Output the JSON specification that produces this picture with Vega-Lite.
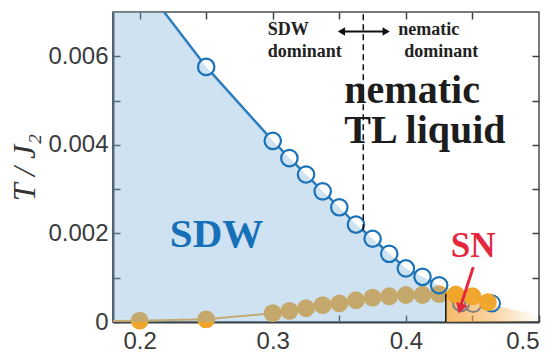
{
  "$schema": "https://vega.github.io/schema/vega-lite/v6.json",
  "width": 426,
  "height": 310,
  "autosize": "none",
  "padding": {"left": 113, "top": 12, "right": 9, "bottom": 30},
  "background": "white",
  "config": {
    "view": {"stroke": "#4d4d4d", "strokeWidth": 1.5},
    "axis": {
      "grid": false,
      "labelFont": "Liberation Sans",
      "labelFontSize": 24,
      "labelColor": "#3a3a3a",
      "domainColor": "#3a4246",
      "domainWidth": 2,
      "tickColor": "#3a4246",
      "tickWidth": 1.5,
      "tickSize": -7
    }
  },
  "datasets": {
    "sdw": [
      {"M": 0.18, "T": 0.0085, "pt": false},
      {"M": 0.25, "T": 0.00576, "pt": true},
      {"M": 0.3, "T": 0.00409, "pt": true},
      {"M": 0.3125, "T": 0.0037, "pt": true},
      {"M": 0.325, "T": 0.00333, "pt": true},
      {"M": 0.3375, "T": 0.00295, "pt": true},
      {"M": 0.35, "T": 0.00259, "pt": true},
      {"M": 0.3625, "T": 0.0022, "pt": true},
      {"M": 0.375, "T": 0.00188, "pt": true},
      {"M": 0.3875, "T": 0.00154, "pt": true},
      {"M": 0.4, "T": 0.00121, "pt": true},
      {"M": 0.4125, "T": 0.00102, "pt": true},
      {"M": 0.425, "T": 0.00083, "pt": true},
      {"M": 0.43, "T": 0.0007, "pt": false}
    ],
    "sn": [
      {"M": 0.18, "T": 0.00002, "pt": false},
      {"M": 0.2, "T": 0.00003, "pt": true},
      {"M": 0.25, "T": 0.00006, "pt": true},
      {"M": 0.3, "T": 0.0002, "pt": true},
      {"M": 0.3125, "T": 0.00025, "pt": true},
      {"M": 0.325, "T": 0.00031, "pt": true},
      {"M": 0.3375, "T": 0.00038, "pt": true},
      {"M": 0.35, "T": 0.00042, "pt": true},
      {"M": 0.3625, "T": 0.00049, "pt": true},
      {"M": 0.375, "T": 0.00055, "pt": true},
      {"M": 0.3875, "T": 0.00058, "pt": true},
      {"M": 0.4, "T": 0.00061, "pt": true},
      {"M": 0.4125, "T": 0.00061, "pt": true},
      {"M": 0.425, "T": 0.00063, "pt": true},
      {"M": 0.4375, "T": 0.00062, "pt": true},
      {"M": 0.45, "T": 0.00058, "pt": true},
      {"M": 0.4615, "T": 0.00045, "pt": true}
    ],
    "tail": [
      {"M": 0.4415, "T": 0.00043, "c": "gray"},
      {"M": 0.4505, "T": 0.00041, "c": "gray"},
      {"M": 0.4645, "T": 0.00042, "c": "blue"}
    ],
    "snArea": [
      {"M": 0.43, "T": 0.00065},
      {"M": 0.44, "T": 0.00062},
      {"M": 0.45, "T": 0.00055},
      {"M": 0.46, "T": 0.00045},
      {"M": 0.47, "T": 0.00035},
      {"M": 0.485, "T": 0.00025},
      {"M": 0.5, "T": 0.00016}
    ],
    "bigText": [
      {"M": 0.3538, "T": 0.00495, "label": "nematic"},
      {"M": 0.3538, "T": 0.00405, "label": "TL liquid"}
    ],
    "smallText": [
      {"M": 0.2962, "T": 0.00649, "label": "SDW"},
      {"M": 0.2962, "T": 0.00598, "label": "dominant"},
      {"M": 0.3943, "T": 0.00649, "label": "nematic"},
      {"M": 0.3988, "T": 0.00598, "label": "dominant"}
    ]
  },
  "layer": [
    {
      "encoding": {
        "x": {
          "field": "M", "type": "quantitative",
          "scale": {"domain": [0.18, 0.5], "nice": false, "zero": false},
          "axis": {
            "values": [0.2, 0.25, 0.3, 0.35, 0.4, 0.45, 0.5],
            "labelExpr": "round(datum.value*100) % 10 == 0 ? format(datum.value, '.1f') : ''",
            "labelPadding": 14,
            "title": "M",
            "titleFont": "Liberation Serif",
            "titleFontStyle": "italic",
            "titleFontWeight": "normal",
            "titleFontSize": 30,
            "titleColor": "#333333",
            "titleX": 369,
            "titleY": 344,
            "titleAlign": "center",
            "titleBaseline": "alphabetic"
          }
        },
        "y": {
          "field": "T", "type": "quantitative",
          "scale": {"domain": [0, 0.007], "nice": false, "zero": false},
          "axis": {
            "values": [0, 0.001, 0.002, 0.003, 0.004, 0.005, 0.006],
            "labelExpr": "datum.value == 0 ? '0' : (round(datum.value*1000) % 2 == 0 ? format(datum.value, '.3f') : '')",
            "labelPadding": 12,
            "title": "T / J₂",
            "titleFont": "Liberation Serif",
            "titleFontStyle": "italic",
            "titleFontWeight": "normal",
            "titleFontSize": 32,
            "titleColor": "#333333",
            "titleAngle": 270,
            "titleX": -79,
            "titleY": 155,
            "titleAlign": "center",
            "titleBaseline": "alphabetic"
          }
        }
      },
      "layer": [
        {
          "data": {"name": "snArea"},
          "mark": {
            "type": "area", "clip": true,
            "fill": {
              "gradient": "linear", "x1": 0, "x2": 1, "y1": 0, "y2": 0,
              "stops": [
                {"offset": 0, "color": "rgba(244,170,70,0.8)"},
                {"offset": 0.5, "color": "rgba(244,170,70,0.5)"},
                {"offset": 1, "color": "rgba(244,170,70,0)"}
              ]
            }
          },
          "encoding": {"y2": {"datum": 0}}
        },
        {
          "data": {"name": "sn"},
          "mark": {"type": "line", "color": "#efa630", "strokeWidth": 2, "clip": true}
        },
        {
          "data": {"name": "sdw"},
          "mark": {"type": "line", "color": "#1b72b8", "strokeWidth": 2.5, "clip": true}
        },
        {
          "data": {"name": "sdw"},
          "transform": [{"filter": "datum.pt"}],
          "mark": {"type": "point", "shape": "circle", "filled": true, "fill": "white", "opacity": 1, "size": 270, "strokeWidth": 0}
        },
        {
          "data": {"name": "tail"},
          "mark": {"type": "point", "shape": "circle", "filled": false, "size": 270, "strokeWidth": 2, "opacity": 1},
          "encoding": {
            "stroke": {"field": "c", "type": "nominal", "scale": {"domain": ["gray", "blue"], "range": ["#808080", "#1b72b8"]}, "legend": null}
          }
        },
        {
          "data": {"name": "sn"},
          "transform": [{"filter": "datum.pt"}],
          "mark": {"type": "circle", "size": 320, "color": "#f0a52c", "opacity": 1}
        },
        {
          "data": {"name": "sdw"},
          "mark": {"type": "area", "clip": true, "color": "#7cb0db", "opacity": 0.37},
          "encoding": {"y2": {"datum": 0}}
        },
        {
          "data": {"name": "sdw"},
          "transform": [{"filter": "datum.pt"}],
          "mark": {"type": "point", "shape": "circle", "filled": false, "color": "#1b72b8", "size": 270, "strokeWidth": 2.2, "opacity": 1}
        },
        {
          "data": {"values": [{"M": 0.43, "T": 0, "T2": 0.00064}]},
          "mark": {"type": "rule", "color": "#111111", "strokeWidth": 1.5},
          "encoding": {"y2": {"field": "T2"}}
        },
        {
          "data": {"values": [{"M": 0.368, "T": 0.00207, "T2": 0.007}]},
          "mark": {"type": "rule", "color": "#111111", "strokeWidth": 1.5, "strokeDash": [6, 4]},
          "encoding": {"y2": {"field": "T2"}}
        },
        {
          "data": {"values": [{"M": 0.3505, "M2": 0.3865, "T": 0.00656}]},
          "mark": {"type": "rule", "color": "#111111", "strokeWidth": 2},
          "encoding": {"x2": {"field": "M2"}}
        },
        {
          "data": {"values": [{"M": 0.3516, "T": 0.00656, "d": "l"}, {"M": 0.3852, "T": 0.00656, "d": "r"}]},
          "mark": {"type": "point", "filled": true, "color": "#111111", "size": 70, "opacity": 1},
          "encoding": {
            "shape": {"field": "d", "type": "nominal", "scale": {"domain": ["l", "r"], "range": ["triangle-left", "triangle-right"]}, "legend": null}
          }
        },
        {
          "data": {"values": [{"M": 0.4506, "T": 0.00124, "M2": 0.4416, "T2": 0.0004}]},
          "mark": {"type": "rule", "color": "#e4273e", "strokeWidth": 3},
          "encoding": {"x2": {"field": "M2"}, "y2": {"field": "T2"}}
        },
        {
          "data": {"values": [{"M": 0.4412, "T": 0.00034}]},
          "mark": {"type": "point", "shape": "triangle", "angle": 197, "filled": true, "color": "#e4273e", "size": 140, "opacity": 1}
        },
        {
          "data": {"values": [{"M": 0.2578, "T": 0.00169, "label": "SDW"}]},
          "mark": {"type": "text", "font": "Liberation Serif", "fontWeight": "bold", "fontSize": 41, "color": "#1570b8", "align": "center", "baseline": "alphabetic"},
          "encoding": {"text": {"field": "label"}}
        },
        {
          "data": {"values": [{"M": 0.4505, "T": 0.00146, "label": "SN"}]},
          "mark": {"type": "text", "font": "Liberation Serif", "fontWeight": "bold", "fontSize": 35, "color": "#e4273e", "align": "center", "baseline": "alphabetic"},
          "encoding": {"text": {"field": "label"}}
        },
        {
          "data": {"name": "bigText"},
          "mark": {"type": "text", "font": "Liberation Serif", "fontWeight": "bold", "fontSize": 40, "color": "#1d1d1d", "align": "left", "baseline": "alphabetic"},
          "encoding": {"text": {"field": "label"}}
        },
        {
          "data": {"name": "smallText"},
          "mark": {"type": "text", "font": "Liberation Serif", "fontWeight": "bold", "fontSize": 18, "color": "#222222", "align": "left", "baseline": "alphabetic"},
          "encoding": {"text": {"field": "label"}}
        }
      ]
    },
    {
      "data": {"values": [{"M": 0.3, "T": 0.003}]},
      "mark": {"type": "point", "opacity": 0},
      "encoding": {
        "x": {
          "field": "M", "type": "quantitative",
          "scale": {"domain": [0.18, 0.5], "nice": false, "zero": false},
          "axis": {"orient": "top", "values": [0.2, 0.25, 0.3, 0.35, 0.4, 0.45], "labels": false, "domain": false, "title": null}
        },
        "y": {
          "field": "T", "type": "quantitative",
          "scale": {"domain": [0, 0.007], "nice": false, "zero": false},
          "axis": {"orient": "right", "values": [0.001, 0.002, 0.003, 0.004, 0.005, 0.006], "labels": false, "domain": false, "title": null}
        }
      }
    }
  ],
  "resolve": {"axis": {"x": "independent", "y": "independent"}}
}
